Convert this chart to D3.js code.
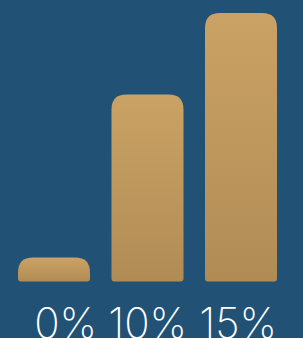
<!DOCTYPE html>
<html>
<head>
<meta charset="utf-8">
<script src="https://cdn.jsdelivr.net/npm/d3@7"></script>
<style>
  html, body { margin: 0; padding: 0; background: #215275; }
  svg { display: block; }
</style>
</head>
<body>
<svg width="303" height="338"></svg>
<script>
const categories = ["0%", "10%", "15%"];
const values = [0, 10, 15];

const svg = d3.select("svg");
const width = +svg.attr("width");
const height = +svg.attr("height");

const baseline = 281.5;
const minBar = 24;

const x = d3.scaleBand()
  .domain(categories)
  .range([18, 277])
  .paddingInner(0.23)
  .paddingOuter(0);

const y = d3.scaleLinear()
  .domain([0, d3.max(values)])
  .range([baseline - minBar, 13]);

// labels sit right-aligned on their own spacing
const labelX = d3.scalePoint()
  .domain(categories)
  .range([97, 277]);

const defs = svg.append("defs");
const grad = defs.append("linearGradient")
  .attr("id", "gold")
  .attr("x1", 0).attr("y1", 0)
  .attr("x2", 0).attr("y2", 1);
grad.append("stop").attr("offset", "0%").attr("stop-color", "#cba265");
grad.append("stop").attr("offset", "100%").attr("stop-color", "#b08c55");

svg.append("rect")
  .attr("width", width)
  .attr("height", height)
  .attr("fill", "#215275");

// rounded top, nearly square bottom
function barPath(x0, y0, w, h) {
  const rb = 3;
  const rt = Math.min(15, h - rb);
  return `M${x0},${y0 + rt}
    Q${x0},${y0} ${x0 + rt},${y0}
    L${x0 + w - rt},${y0}
    Q${x0 + w},${y0} ${x0 + w},${y0 + rt}
    L${x0 + w},${y0 + h - rb}
    Q${x0 + w},${y0 + h} ${x0 + w - rb},${y0 + h}
    L${x0 + rb},${y0 + h}
    Q${x0},${y0 + h} ${x0},${y0 + h - rb}Z`;
}

svg.selectAll(".bar")
  .data(values)
  .enter()
  .append("path")
  .attr("class", "bar")
  .attr("fill", "url(#gold)")
  .attr("d", (d, i) => {
    const top = y(d);
    return barPath(x(categories[i]), top, x.bandwidth(), baseline - top);
  });

svg.selectAll(".label")
  .data(categories)
  .enter()
  .append("text")
  .attr("class", "label")
  .attr("x", d => labelX(d))
  .attr("y", 338)
  .attr("text-anchor", "end")
  .attr("fill", "#ffffff")
  .attr("font-family", "Inter, sans-serif")
  .attr("font-weight", 200)
  .attr("font-size", 42)
  .text(d => d);
</script>
</body>
</html>
